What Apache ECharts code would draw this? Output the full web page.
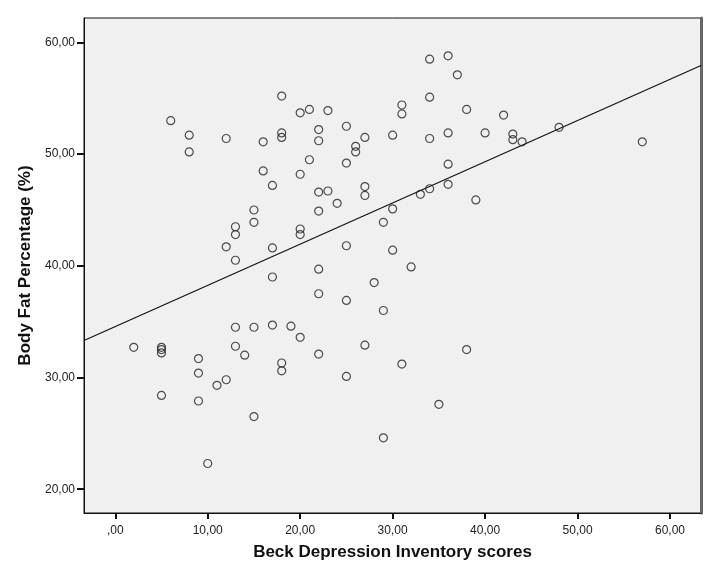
<!DOCTYPE html>
<html>
<head>
<meta charset="utf-8">
<script src="https://cdn.jsdelivr.net/npm/echarts@6/dist/echarts.min.js"></script>
<style>
  html, body { margin: 0; padding: 0; background: #fff; }
  #chart { width: 711px; height: 580px; }
</style>
</head>
<body>
<div id="chart"></div>
<script>
// Beck Depression Inventory scores (x) and body fat percentage (y)
const bdiScores = [
  18, 6, 8, 8, 12, 16, 18, 18, 16, 17, 15, 15, 13, 13, 12, 17, 13,
  34, 36, 37, 34, 20, 21, 23, 31, 31, 38, 22, 22, 25, 27, 26, 26, 30, 34, 36, 40,
  21, 20, 25, 36, 22, 23, 24, 22, 27, 27, 33, 34, 36, 39, 30, 29, 20, 20, 25, 30,
  42, 43, 43, 44, 48, 57,
  17, 2, 5, 5, 5, 5, 9, 9, 9, 11, 12, 10, 13, 13, 14, 15, 17, 19, 18, 18, 15,
  22, 32, 28, 22, 25, 29, 20, 22, 27, 31, 25, 38, 35, 29
];
const bodyFat = [
  55.2, 53.0, 51.7, 50.2, 51.4, 51.1, 51.9, 51.5, 48.5, 47.2, 45.0, 43.9, 43.5, 42.8, 41.7, 41.6, 40.5,
  58.5, 58.8, 57.1, 55.1, 53.7, 54.0, 53.9, 54.4, 53.6, 54.0, 52.2, 51.2, 52.5, 51.5, 50.7, 50.2, 51.7, 51.4, 51.9, 51.9,
  49.5, 48.2, 49.2, 49.1, 46.6, 46.7, 45.6, 44.9, 47.1, 46.3, 46.4, 46.9, 47.3, 45.9, 45.1, 43.9, 43.3, 42.8, 41.8, 41.4,
  53.5, 51.8, 51.3, 51.1, 52.4, 51.1,
  39.0, 32.7, 32.7, 32.5, 32.2, 28.4, 31.7, 30.4, 27.9, 29.3, 29.8, 22.3, 34.5, 32.8, 32.0, 34.5, 34.7, 34.6, 31.3, 30.6, 26.5,
  39.7, 39.9, 38.5, 37.5, 36.9, 36.0, 33.6, 32.1, 32.9, 31.2, 30.1, 32.5, 27.6, 24.6
];

// fit line
const fitIntercept = 34.56;
const fitSlope = 0.369;

const xTicks = [0, 10, 20, 30, 40, 50, 60];
const yTicks = [20, 30, 40, 50, 60];
const xRange = [-3.38, 63.35];
const yRange = [17.87, 62.19];

const fmt = v => (v === 0 ? ',00' : v.toFixed(2).replace('.', ','));

const points = bdiScores.map((x, i) => [x, bodyFat[i]]);
const fitLine = xRange.map(x => [x, fitIntercept + fitSlope * x]);

const titleStyle = { fontFamily: 'Liberation Sans', fontWeight: 'bold', fontSize: 17, color: '#111' };
const labelStyle = { fontFamily: 'Liberation Sans', fontSize: 12, color: '#222' };

const chart = echarts.init(document.getElementById('chart'));
chart.setOption({
  animation: false,
  backgroundColor: '#fff',
  grid: {
    left: 84, top: 18, right: 10, bottom: 67,
    show: true,
    backgroundColor: '#f0f0f0',
    borderColor: '#111',
    borderWidth: 1
  },
  xAxis: {
    type: 'value',
    min: xRange[0], max: xRange[1],
    name: 'Beck Depression Inventory scores',
    nameLocation: 'middle',
    nameGap: 31,
    nameTextStyle: titleStyle,
    splitLine: { show: false },
    axisLine: { show: true, onZero: false, lineStyle: { color: '#111', width: 1 } },
    axisTick: { show: true, length: 6, customValues: xTicks, lineStyle: { color: '#111', width: 2 } },
    axisLabel: Object.assign({ customValues: xTicks, margin: 12, formatter: fmt }, labelStyle)
  },
  yAxis: [{
    type: 'value',
    min: yRange[0], max: yRange[1],
    name: 'Body Fat Percentage (%)',
    nameLocation: 'middle',
    nameGap: 43,
    nameTextStyle: titleStyle,
    splitLine: { show: false },
    axisLine: { show: true, onZero: false, lineStyle: { color: '#111', width: 1 } },
    axisTick: { show: true, length: 7, customValues: yTicks, lineStyle: { color: '#111', width: 2 } },
    axisLabel: Object.assign({ customValues: yTicks, margin: 9, formatter: fmt }, labelStyle)
  }, {
    type: 'value',
    position: 'right',
    min: yRange[0], max: yRange[1],
    splitLine: { show: false },
    axisLine: { show: true, onZero: false, lineStyle: { color: '#666', width: 3 } },
    axisTick: { show: false },
    axisLabel: { show: false }
  }],
  series: [
    {
      type: 'line',
      data: fitLine,
      symbol: 'none',
      silent: true,
      lineStyle: { color: '#111', width: 1.2 },
      z: 2
    },
    {
      type: 'scatter',
      data: points,
      symbol: 'circle',
      symbolSize: 8,
      itemStyle: { color: 'rgba(0,0,0,0)', borderColor: '#222', borderWidth: 1.2 },
      z: 3
    }
  ]
});
</script>
</body>
</html>
